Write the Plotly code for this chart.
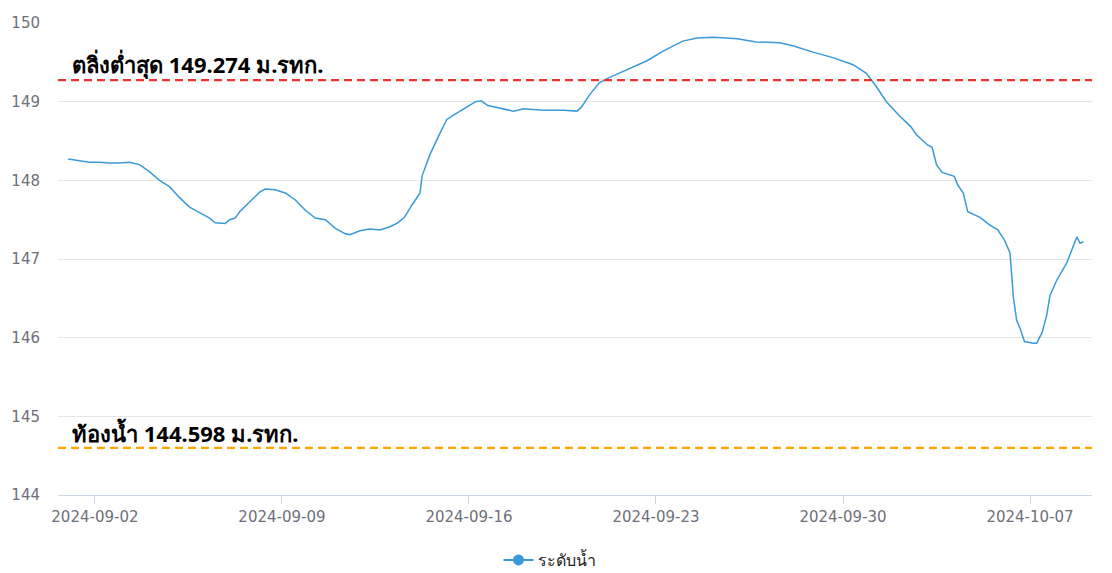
import plotly.graph_objects as go

times = [
    "2024-09-01 00:00", "2024-09-01 10:00", "2024-09-01 19:00", "2024-09-02 04:00",
    "2024-09-02 13:00", "2024-09-02 22:00", "2024-09-03 07:00", "2024-09-03 16:00",
    "2024-09-04 01:00", "2024-09-04 10:00", "2024-09-04 19:00", "2024-09-05 04:00",
    "2024-09-05 13:00", "2024-09-05 22:00", "2024-09-06 07:00", "2024-09-06 12:00",
    "2024-09-06 21:00", "2024-09-07 01:00", "2024-09-07 06:00", "2024-09-07 10:00",
    "2024-09-07 19:00", "2024-09-08 04:00", "2024-09-08 09:00", "2024-09-08 18:00",
    "2024-09-09 03:00", "2024-09-09 12:00", "2024-09-09 21:00", "2024-09-10 06:00",
    "2024-09-10 15:00", "2024-09-11 00:00", "2024-09-11 09:00", "2024-09-11 13:00",
    "2024-09-11 22:00", "2024-09-12 07:00", "2024-09-12 16:00", "2024-09-13 01:00",
    "2024-09-13 08:00", "2024-09-13 14:00", "2024-09-13 21:00", "2024-09-14 04:00",
    "2024-09-14 06:00", "2024-09-14 13:00", "2024-09-14 22:00", "2024-09-15 04:00",
    "2024-09-15 09:00", "2024-09-15 14:00", "2024-09-15 23:00", "2024-09-16 06:00",
    "2024-09-16 11:00", "2024-09-16 17:00", "2024-09-17 04:00", "2024-09-17 16:00",
    "2024-09-18 01:00", "2024-09-18 19:00", "2024-09-19 13:00", "2024-09-20 01:00",
    "2024-09-20 05:00", "2024-09-20 12:00", "2024-09-20 21:00", "2024-09-21 05:00",
    "2024-09-21 16:00", "2024-09-22 04:00", "2024-09-22 16:00", "2024-09-23 06:00",
    "2024-09-24 00:00", "2024-09-24 13:00", "2024-09-25 04:00", "2024-09-26 01:00",
    "2024-09-26 18:00", "2024-09-27 15:00", "2024-09-28 03:00", "2024-09-28 21:00",
    "2024-09-29 15:00", "2024-09-30 09:00", "2024-09-30 21:00", "2024-10-01 06:00",
    "2024-10-01 15:00", "2024-10-02 02:00", "2024-10-02 13:00", "2024-10-02 18:00",
    "2024-10-03 04:00", "2024-10-03 08:00", "2024-10-03 12:00", "2024-10-03 17:00",
    "2024-10-04 04:00", "2024-10-04 07:00", "2024-10-04 12:00", "2024-10-04 16:00",
    "2024-10-05 03:00", "2024-10-05 12:00", "2024-10-05 19:00", "2024-10-06 01:00",
    "2024-10-06 06:00", "2024-10-06 09:00", "2024-10-06 12:00", "2024-10-06 15:00",
    "2024-10-06 19:00", "2024-10-07 03:00", "2024-10-07 06:00", "2024-10-07 11:00",
    "2024-10-07 15:00", "2024-10-07 18:00", "2024-10-08 00:00", "2024-10-08 09:00",
    "2024-10-08 14:00", "2024-10-08 18:00", "2024-10-08 21:00", "2024-10-09 00:00",
]

water_level = [
    148.27, 148.25, 148.23, 148.23,
    148.22, 148.22, 148.23, 148.20,
    148.11, 148.00, 147.92, 147.78,
    147.66, 147.59, 147.52, 147.46,
    147.45, 147.50, 147.52, 147.60,
    147.72, 147.85, 147.89, 147.88,
    147.84, 147.75, 147.62, 147.52,
    147.50, 147.39, 147.32, 147.31,
    147.36, 147.38, 147.37, 147.41,
    147.46, 147.53, 147.69, 147.84,
    148.06, 148.33, 148.60, 148.77,
    148.82, 148.86, 148.94, 149.00,
    149.01, 148.95, 148.92, 148.88,
    148.91, 148.89, 148.89, 148.88,
    148.93, 149.08, 149.24, 149.30,
    149.37, 149.45, 149.52, 149.64,
    149.77, 149.81, 149.82, 149.80,
    149.76, 149.75, 149.71, 149.63,
    149.56, 149.47, 149.36, 149.19,
    149.00, 148.83, 148.68, 148.58,
    148.45, 148.42, 148.20, 148.10,
    148.05, 147.94, 147.84, 147.60,
    147.53, 147.43, 147.37, 147.24,
    147.08, 146.52, 146.22, 146.12,
    145.95, 145.93, 145.93, 146.07,
    146.29, 146.54, 146.73, 146.95,
    147.14, 147.28, 147.20, 147.22,
]

bank_level = 149.274
bed_level = 144.598
bank_label = "ตลิ่งต่ำสุด 149.274 ม.รทก."
bed_label = "ท้องน้ำ 144.598 ม.รทก."
series_name = "ระดับน้ำ"
tick_dates = ["2024-09-02", "2024-09-09", "2024-09-16", "2024-09-23", "2024-09-30", "2024-10-07"]

LINE_COLOR = "#3A9AD9"

fig = go.Figure()
fig.add_trace(go.Scatter(
    x=times, y=water_level, mode="lines", name=series_name,
    line=dict(color=LINE_COLOR, width=1.5),
    showlegend=False,
))
# legend entry (line with circle marker)
fig.add_trace(go.Scatter(
    x=[None], y=[None], mode="lines+markers", name=series_name,
    line=dict(color=LINE_COLOR, width=2),
    marker=dict(size=11, color=LINE_COLOR),
))

fig.add_shape(type="line", xref="paper", yref="y", x0=0, x1=1, y0=bank_level, y1=bank_level,
              line=dict(color="#EE3333", width=2.2, dash="8px,5px"))
fig.add_shape(type="line", xref="paper", yref="y", x0=0, x1=1, y0=bed_level, y1=bed_level,
              line=dict(color="#FFA500", width=2.2, dash="8px,5px"))

for val, label in [(bank_level, bank_label), (bed_level, bed_label)]:
    fig.add_annotation(x=0.012, xref="paper", y=val, yref="y", text="<b>" + label + "</b>",
                       showarrow=False, xanchor="left", yanchor="bottom", yshift=-2,
                       font=dict(family="Noto Sans, sans-serif", size=22, color="#000000"))

fig.update_layout(
    width=1112, height=573,
    margin=dict(l=50, r=28, t=15, b=86),
    plot_bgcolor="white", paper_bgcolor="white",
    font=dict(family="DejaVu Sans, sans-serif", size=15, color="#6E7079"),
    showlegend=True,
    legend=dict(orientation="h", xref="container", yref="container",
                x=0.4874, xanchor="center", y=0.0366, yanchor="middle",
                font=dict(family="Noto Sans, sans-serif", size=16, color="#222222")),
    hovermode=False,
)
fig.update_xaxes(
    type="date", automargin=False,
    range=["2024-08-31 14:50", "2024-10-09 07:40"],
    tickvals=tick_dates, ticktext=tick_dates,
    showgrid=False, showline=True, linecolor="#CCD6EB", linewidth=1,
    ticks="outside", ticklen=8, tickcolor="#CCD6EB",
    tickfont=dict(family="DejaVu Sans, sans-serif", size=15, color="#6E7079"),
    zeroline=False,
)
fig.update_yaxes(
    range=[144, 150], dtick=1, automargin=False,
    showgrid=True, gridcolor="#E6E6E6", gridwidth=1,
    showline=False, zeroline=False, ticks="",
    tickfont=dict(family="DejaVu Sans, sans-serif", size=15, color="#6E7079"),
    ticklabelstandoff=17,
)

fig.write_html("out.html")
